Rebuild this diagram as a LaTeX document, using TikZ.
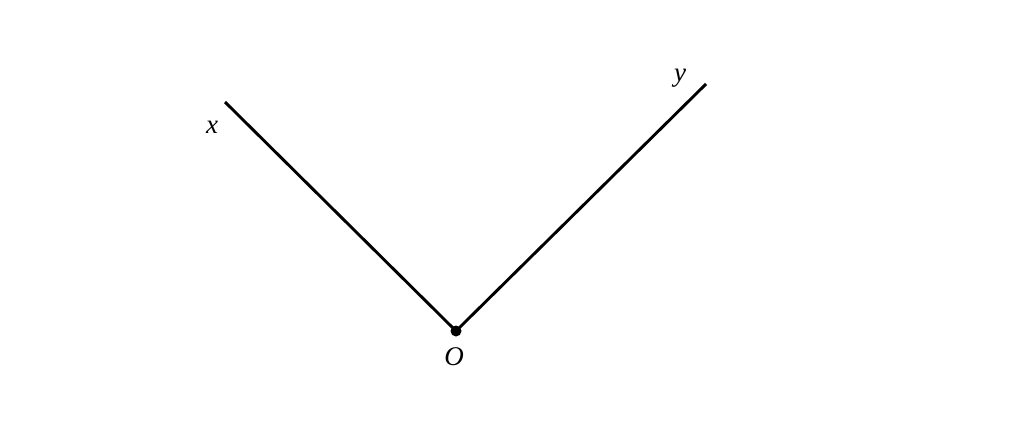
\documentclass[tikz,border=0pt]{standalone}
\usepackage{fontspec}
\setmainfont{Liberation Serif}
\begin{document}
\begin{tikzpicture}[x=1pt,y=-1pt,
  ray/.style={line width=2.9pt},
  lbl/.style={font=\fontsize{27}{31}\selectfont\itshape, inner sep=0pt}]
\useasboundingbox[fill=white] (0,0) rectangle (1024,425);
\coordinate (O) at (456,331);
\coordinate (X) at (225,102);
\coordinate (Y) at (706,84);
\draw[ray] (X) -- (O) -- (Y);
\fill (O) circle (5.5);
\node[lbl] (lx) at (212,127) {x};
\node[lbl] (ly) at (680,78) {y};
\node[lbl] (lo) at (454,357) {O};
\end{tikzpicture}
\end{document}
